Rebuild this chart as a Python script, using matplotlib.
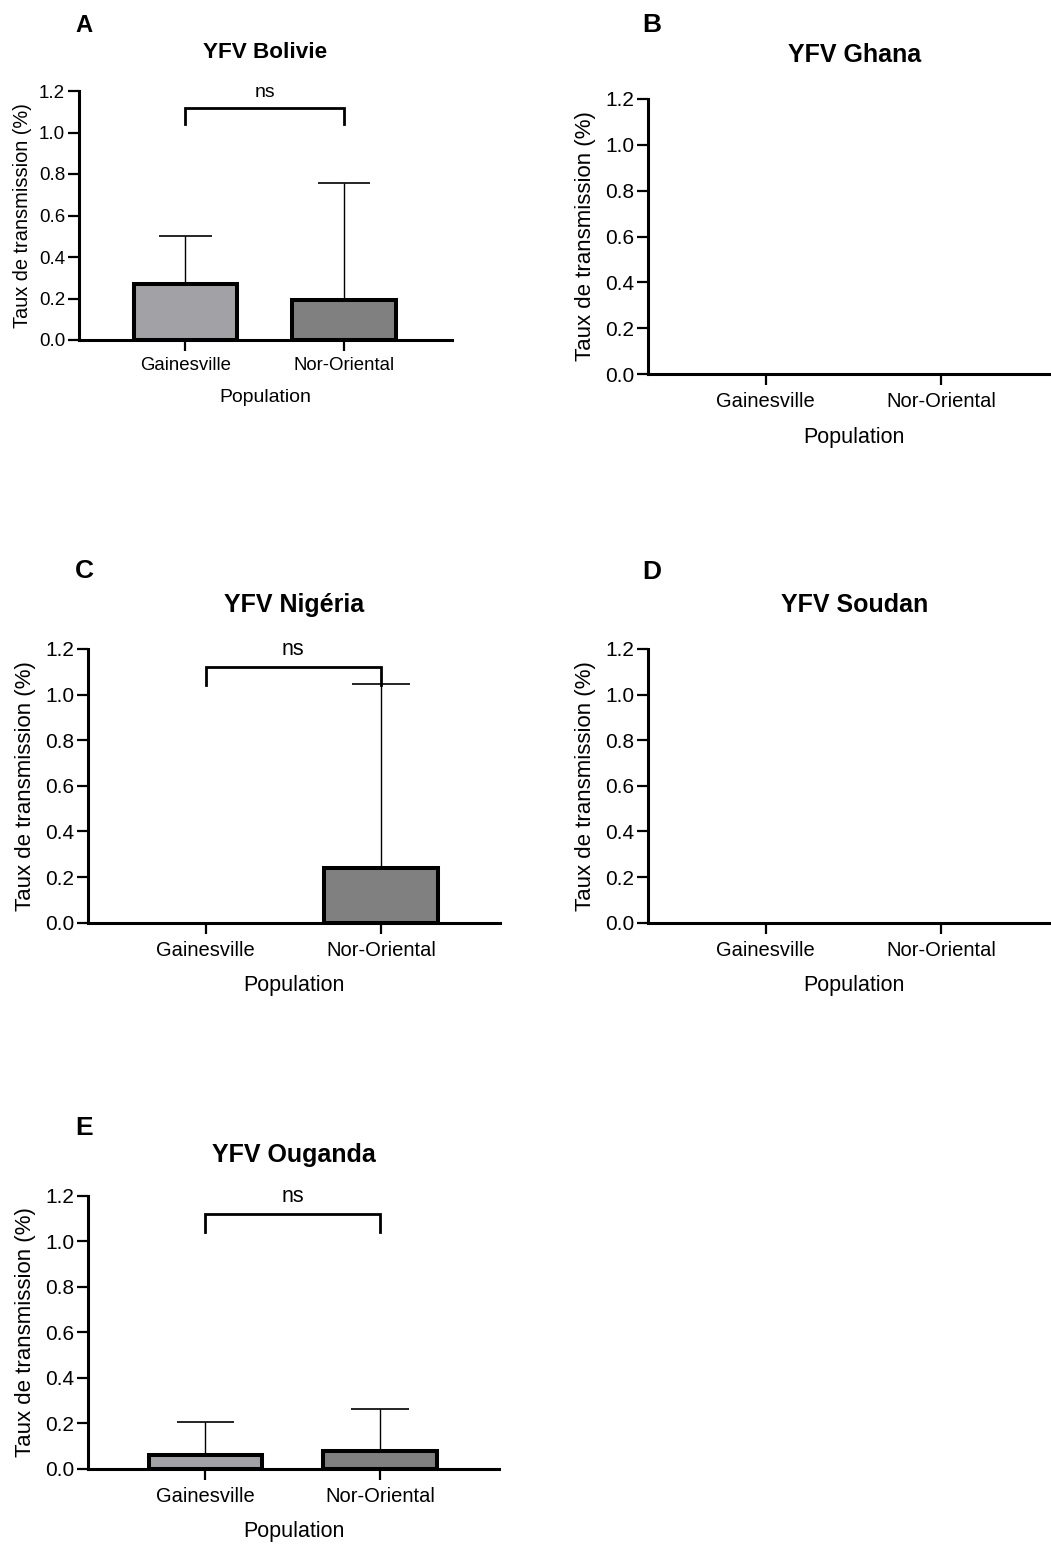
import matplotlib
matplotlib.use("Agg")
import matplotlib.pyplot as plt

plt.rcParams['font.family'] = ['Liberation Sans', 'DejaVu Sans']

W, H = 1051, 1544
populations = ["Gainesville", "Nor-Oriental"]
bar_colors = ["#A2A1A6", "#808080"]
yticks = [0.0, 0.2, 0.4, 0.6, 0.8, 1.0, 1.2]

# Panel data: mean transmission rate and upper SD
bolivie_mean = [0.27, 0.195]
bolivie_sd = [0.233, 0.56]
ghana_mean = [0.0, 0.0]
ghana_sd = [0.0, 0.0]
nigeria_mean = [0.0, 0.242]
nigeria_sd = [0.0, 0.803]
soudan_mean = [0.0, 0.0]
soudan_sd = [0.0, 0.0]
ouganda_mean = [0.062, 0.077]
ouganda_sd = [0.145, 0.188]

fig = plt.figure(figsize=(W / 100, H / 100), dpi=100)


def px(x, y):
    return x / W, 1 - y / H


def panel(letter, title, means, sds, show_ns, x0, x1, ytop, y0, s,
          letter_xy, title_y, pop_y):
    ax = fig.add_axes([x0 / W, 1 - y0 / H, (x1 - x0) / W, (y0 - ytop) / H])
    xs = list(range(len(populations)))
    ax.set_xlim(-0.67, 1.68)
    ax.set_ylim(0, 1.2)
    for sp in ["top", "right"]:
        ax.spines[sp].set_visible(False)
    for sp in ["left", "bottom"]:
        ax.spines[sp].set_linewidth(2.2)
    ax.set_yticks(yticks)
    ax.set_yticklabels([f"{v:.1f}" for v in yticks], fontsize=15 * s)
    ax.set_xticks(xs)
    ax.set_xticklabels(populations, fontsize=14.5 * s * (1.03 if s < 1 else 1))
    ax.tick_params(axis="y", length=8, width=1.6, pad=2)
    ax.tick_params(axis="x", length=8, width=1.6, pad=5 * s)
    for xi, m, sd, c in zip(xs, means, sds, bar_colors):
        if m <= 0:
            continue
        ax.vlines(xi, m, m + sd, color="black", lw=1.0, zorder=1)
        ax.hlines(m + sd, xi - 0.165, xi + 0.165, color="black", lw=1.2, zorder=1)
        ax.bar(xi, m, width=0.65, color=c, edgecolor="black", linewidth=2.9, zorder=2)
    if show_ns:
        ax.plot([0, 0, 1, 1], [1.04, 1.12, 1.12, 1.04], color="black", lw=2.0,
                clip_on=False, solid_joinstyle="miter")
        ax.text(0.5, 1.15, "ns", ha="center", va="bottom", fontsize=15.5 * s,
                transform=ax.transData)
    cx = (x0 + x1) / 2
    fig.text(*px(*letter_xy), letter, fontsize=19 * s, fontweight="bold",
             ha="left", va="center")
    fig.text(*px(cx, title_y), title, fontsize=18 * s, fontweight="bold",
             ha="center", va="center")
    fig.text(*px(cx, pop_y), "Population", fontsize=15.5 * s,
             ha="center", va="center")
    fig.text(*px(x0 - 63 * s, (ytop + y0) / 2), "Taux de transmission (%)",
             fontsize=16 * s, rotation=90, ha="center", va="center")
    return ax


panel("A", "YFV Bolivie", bolivie_mean, bolivie_sd, True, 79, 452, 91, 340, 0.9,
      (75, 25), 52, 398)
panel("B", "YFV Ghana", ghana_mean, ghana_sd, False, 648.3, 1060, 99, 374, 1.0,
      (642, 25), 55, 437)
panel("C", "YFV Nigéria", nigeria_mean, nigeria_sd, True, 88.3, 500, 649, 922.7, 1.0,
      (75, 571), 605, 985)
panel("D", "YFV Soudan", soudan_mean, soudan_sd, False, 648.3, 1060, 649, 922.7, 1.0,
      (642, 572), 605, 985)
panel("E", "YFV Ouganda", ouganda_mean, ouganda_sd, True, 88.3, 499, 1195.7, 1469, 1.0,
      (75, 1128), 1155, 1532)

fig.savefig("out.png", dpi=100)
